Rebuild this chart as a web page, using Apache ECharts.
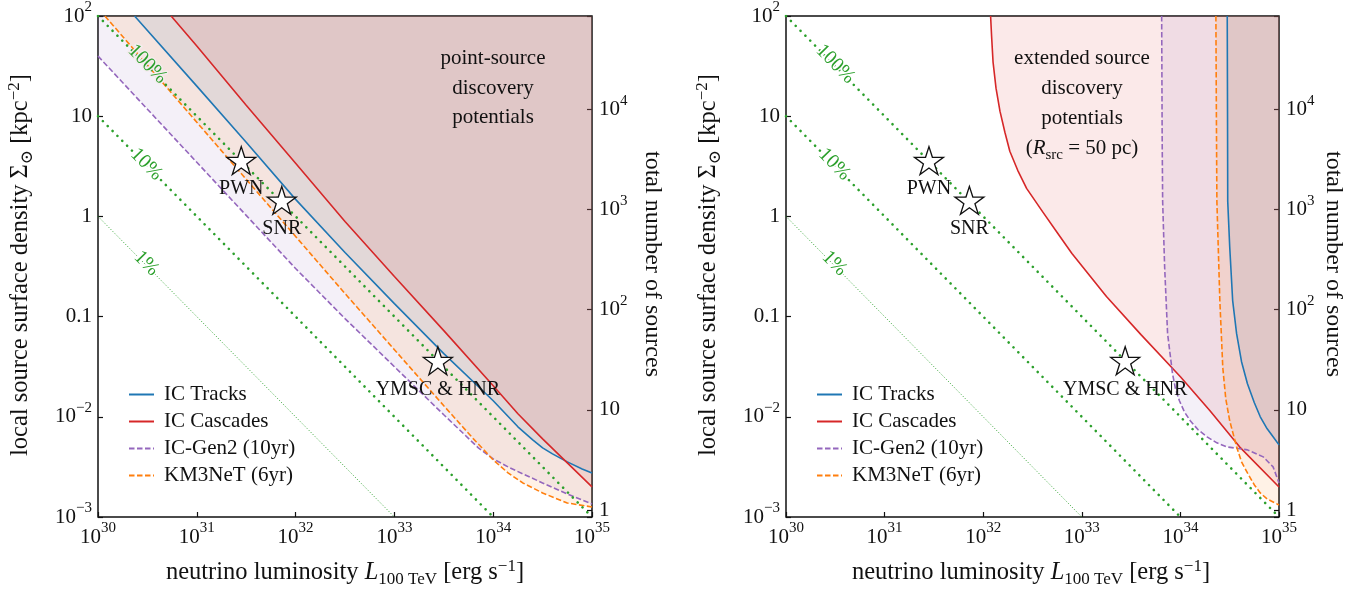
<!DOCTYPE html>
<html>
<head>
<meta charset="utf-8">
<script src="https://cdn.jsdelivr.net/npm/echarts@6/dist/echarts.min.js"></script>
<style>
  html, body { margin: 0; background: #fff; }
  #chart { width: 1364px; height: 593px; }
</style>
</head>
<body>
<div id="chart"></div>
<script>
// all curve points are [log10 L, log10 Sigma]
const tracksPoint = [[30.37, 2.0], [31, 1.30], [31.5, 0.74], [32, 0.17], [32.5, -0.36], [33, -0.87], [33.5, -1.37], [34, -1.84], [34.25, -2.10], [34.4, -2.23], [34.5, -2.31], [34.6, -2.37], [34.75, -2.45], [34.9, -2.52], [35, -2.56]]
const cascadesPoint = [[30.74, 2.0], [31, 1.70], [31.5, 1.11], [32, 0.53], [32.5, -0.05], [33, -0.60], [33.5, -1.14], [34, -1.69], [34.25, -1.97], [34.5, -2.22], [34.75, -2.46], [35, -2.70]]
const gen2Point = [[30, 1.60], [30.5, 1.07], [31, 0.54], [31.5, 0.01], [32, -0.52], [32.5, -1.02], [33, -1.50], [33.5, -1.98], [33.85, -2.31], [34, -2.42], [34.15, -2.50], [34.3, -2.57], [34.5, -2.66], [34.75, -2.77], [35, -2.87]]
const km3Point = [[30.07, 2.0], [30.5, 1.51], [31, 0.94], [31.5, 0.37], [32, -0.20], [32.5, -0.77], [33, -1.33], [33.5, -1.89], [33.8, -2.22], [34, -2.43], [34.15, -2.56], [34.3, -2.66], [34.5, -2.76], [34.75, -2.86], [35, -2.90]]

const tracksExt = [[34.475, 2.0], [34.478, 1.0], [34.48, 0.15], [34.50, -0.30], [34.53, -0.84], [34.57, -1.17], [34.62, -1.45], [34.68, -1.67], [34.75, -1.86], [34.81, -2.0], [34.88, -2.12], [34.94, -2.2], [35, -2.28]]
const cascadesExt = [[32.075, 2.0], [32.085, 1.8], [32.10, 1.54], [32.13, 1.28], [32.17, 1.05], [32.22, 0.84], [32.27, 0.65], [32.35, 0.46], [32.44, 0.28], [32.6, 0.05], [32.75, -0.16], [32.9, -0.37], [33.25, -0.80], [33.6, -1.18], [34, -1.60], [34.3, -1.94], [34.6, -2.30], [35, -2.70]]
const gen2Ext = [[33.81, 2.0], [33.815, 0.8], [33.82, 0.15], [33.84, -0.5], [33.87, -1.17], [33.92, -1.57], [33.95, -1.72], [33.99, -1.84], [34.04, -1.95], [34.1, -2.04], [34.18, -2.13], [34.27, -2.2], [34.37, -2.26], [34.47, -2.30], [34.68, -2.33], [34.84, -2.40], [34.94, -2.50], [35, -2.66]]
const km3Ext = [[34.36, 2.0], [34.365, 1.0], [34.37, 0.15], [34.40, -0.84], [34.43, -1.51], [34.46, -1.82], [34.5, -2.04], [34.57, -2.30], [34.62, -2.45], [34.68, -2.56], [34.75, -2.68], [34.81, -2.76], [34.88, -2.82], [34.94, -2.85], [35, -2.88]]

// constant-fraction lines (100%, 10%, 1%)
const frac100 = [[30, 2], [35, -3]]
const frac10 = [[30, 1], [34, -3]]
const frac1 = [[30, 0], [33, -3]]
const fracText = ['100%', '10%', '1%']
const fracLabelPos = [[30.5, 1.52], [30.49, 0.52], [30.49, -0.47]]

// source classes
const starNames = ['PWN', 'SNR', 'YMSC & HNR']
const starL = [31.45, 31.86, 33.44]
const starSigma = [0.557, 0.16, -1.44]

const lumTickLabels = ['10^30', '10^31', '10^32', '10^33', '10^34', '10^35']
const sigmaTickLabels = ['10^−3', '10^−2', '0.1', '1', '10', '10^2']
const countTickLabels = ['1', '10', '10^2', '10^3', '10^4']

const F = '"Liberation Serif", "DejaVu Serif", serif'
const INK = '#111'
const colors = {
  'IC Tracks': ['#1f77b4', 'rgba(31,119,180,0.1)', false],
  'IC Cascades': ['#d62728', 'rgba(214,39,40,0.1)', false],
  'IC-Gen2 (10yr)': ['#9467bd', 'rgba(148,103,189,0.1)', true],
  'KM3NeT (6yr)': ['#ff7f0e', 'rgba(255,127,14,0.1)', true]
}
const GREEN = '#2ca02c'
const STAR = 'path://M100 0 L122.45 69.1 L195.1 69.1 L136.3 111.8 L158.8 180.9 L100 138.2 L41.2 180.9 L63.7 111.8 L4.9 69.1 L77.55 69.1 Z'

const toXY = (p) => [Math.pow(10, p[0]), Math.pow(10, p[1])]
const rt = (s) => {
  const [b, e] = s.split('^')
  return e === undefined ? '{b|' + b + '}' : '{b|' + b + '}{s|' + e + '}'
}
const tickRich = {
  b: { fontSize: 21, fontFamily: F, color: INK, lineHeight: 32, verticalAlign: 'middle' },
  s: { fontSize: 15, fontFamily: F, color: INK, lineHeight: 15, verticalAlign: 'top' }
}
const tick = { inside: true, length: 5, lineStyle: { color: INK, width: 1.2 } }

function xAxis(gi) {
  return {
    type: 'log', logBase: 10, gridIndex: gi, min: 1e30, max: 1e35,
    axisLine: { show: false }, splitLine: { show: false }, axisTick: tick,
    axisLabel: {
      margin: 4, rich: tickRich,
      formatter: (v) => rt(lumTickLabels[Math.round(Math.log10(v)) - 30])
    }
  }
}
function sigmaAxis(gi) {
  return {
    type: 'log', logBase: 10, gridIndex: gi, min: 1e-3, max: 1e2, position: 'left',
    axisLine: { show: false }, splitLine: { show: false }, axisTick: tick,
    axisLabel: {
      margin: 6, rich: tickRich,
      formatter: (v) => rt(sigmaTickLabels[Math.round(Math.log10(v)) + 3])
    }
  }
}
function countAxis(gi) {
  return {
    type: 'log', logBase: 10, gridIndex: gi, min: 0.853, max: 85300, position: 'right',
    axisLine: { show: false }, splitLine: { show: false }, axisTick: tick,
    axisLabel: {
      margin: 7, rich: tickRich,
      formatter: (v) => {
        const e = Math.log10(v)
        const k = Math.round(e)
        return Math.abs(e - k) < 0.01 && countTickLabels[k] ? rt(countTickLabels[k]) : ''
      }
    }
  }
}

function curve(name, pts, gi) {
  const [c, fill, dashed] = colors[name]
  return {
    name, type: 'line', xAxisIndex: gi, yAxisIndex: gi * 2,
    data: pts.map(toXY), symbol: 'none', smooth: false,
    lineStyle: { color: c, width: 1.6, type: dashed ? [5.5, 2.5] : 'solid' },
    itemStyle: { color: c },
    areaStyle: { color: fill, origin: 'end', opacity: 1 },
    silent: true
  }
}
function fracLine(pts, gi, thin) {
  return {
    type: 'line', xAxisIndex: gi, yAxisIndex: gi * 2, data: pts.map(toXY),
    symbol: 'none', silent: true, z: 3,
    lineStyle: thin
      ? { color: GREEN, width: 1, type: [1, 2] }
      : { color: GREEN, width: 2.6, type: [0.1, 6.8], cap: 'round' }
  }
}
function fracLabels(gi, halo) {
  return {
    type: 'scatter', xAxisIndex: gi, yAxisIndex: gi * 2, symbolSize: 0,
    itemStyle: { color: 'rgba(0,0,0,0)', opacity: 1 }, z: 4, silent: true,
    data: fracLabelPos.map((p, i) => ({ value: toXY(p), label: { textBorderColor: halo[i] } })),
    label: {
      show: true, position: 'inside', rotate: -45.5, color: GREEN,
      fontSize: 20, fontFamily: F, textBorderWidth: 3,
      formatter: (p) => fracText[p.dataIndex]
    }
  }
}
function stars(gi) {
  return {
    type: 'scatter', xAxisIndex: gi, yAxisIndex: gi * 2, z: 6, silent: true,
    symbol: STAR, symbolSize: [29, 28],
    itemStyle: { color: '#fff', borderColor: INK, borderWidth: 1.3, opacity: 1 },
    data: starL.map((l, i) => toXY([l, starSigma[i]])),
    label: {
      show: true, position: 'bottom', distance: 4, color: INK,
      fontSize: 20, fontFamily: F,
      formatter: (p) => starNames[p.dataIndex]
    }
  }
}

const names = Object.keys(colors)
function legend(left) {
  return {
    left, top: 384, padding: 0, orient: 'vertical', itemWidth: 25, itemHeight: 14, itemGap: 6,
    data: names, selectedMode: false,
    itemStyle: { color: 'rgba(0,0,0,0)', borderWidth: 0, opacity: 0 },
    textStyle: { fontSize: 21, fontFamily: F, color: INK, lineHeight: 21, padding: [0, 0, 0, 5] }
  }
}

const titleRich = {
  t: { fontSize: 24.5, fontFamily: F, fill: INK, lineHeight: 30, verticalAlign: 'middle' },
  i: { fontSize: 24.5, fontFamily: F, fill: INK, fontStyle: 'italic', lineHeight: 30, verticalAlign: 'middle' },
  sub: { fontSize: 17, fontFamily: F, fill: INK, lineHeight: 21, verticalAlign: 'bottom' },
  sup: { fontSize: 17, fontFamily: F, fill: INK, lineHeight: 21, verticalAlign: 'top' }
}
const noteRich = {
  t: { fontSize: 21, fontFamily: F, fill: INK, lineHeight: 30, verticalAlign: 'middle' },
  i: { fontSize: 21, fontFamily: F, fill: INK, fontStyle: 'italic', lineHeight: 30, verticalAlign: 'middle' },
  sub: { fontSize: 15, fontFamily: F, fill: INK, lineHeight: 22, verticalAlign: 'bottom' }
}
function txt(x, y, text, rotation, extra) {
  return {
    type: 'text', x, y, rotation: rotation || 0, z: 20, silent: true,
    style: Object.assign({
      text, align: 'center', verticalAlign: 'middle', fill: INK,
      fontSize: 24, fontFamily: F, rich: titleRich
    }, extra || {})
  }
}
const xTitle = '{t|neutrino luminosity }{i|L}{sub|100 TeV}{t| [erg s}{sup|−1}{t|]}'
const yTitle = '{t|local source surface density Σ}{sub|⊙}{t| [kpc}{sup|−2}{t|]}'

const chart = echarts.init(document.getElementById('chart'))
chart.setOption({
  animation: false,
  backgroundColor: '#fff',
  grid: [
    { left: 98, top: 14, width: 494, height: 503, show: true, borderColor: INK, borderWidth: 1.5 },
    { left: 786, top: 14, width: 493, height: 503, show: true, borderColor: INK, borderWidth: 1.5 }
  ],
  xAxis: [xAxis(0), xAxis(1)],
  yAxis: [sigmaAxis(0), countAxis(0), sigmaAxis(1), countAxis(1)],
  legend: [legend(128), legend(816)],
  series: [
    curve('IC Tracks', tracksPoint, 0),
    curve('IC Cascades', cascadesPoint, 0),
    curve('IC-Gen2 (10yr)', gen2Point, 0),
    curve('KM3NeT (6yr)', km3Point, 0),
    curve('IC Tracks', tracksExt, 1),
    curve('IC Cascades', cascadesExt, 1),
    curve('IC-Gen2 (10yr)', gen2Ext, 1),
    curve('KM3NeT (6yr)', km3Ext, 1),
    fracLine(frac100, 0), fracLine(frac10, 0), fracLine(frac1, 0, true),
    fracLine(frac100, 1), fracLine(frac10, 1), fracLine(frac1, 1, true),
    fracLabels(0, ['#f4ecee', '#fff', '#fff']),
    fracLabels(1, ['#fff', '#fff', '#fff']),
    stars(0), stars(1)
  ],
  graphic: [
    txt(493, 88, 'point-source\ndiscovery\npotentials', 0, { fontSize: 21, lineHeight: 29.5, rich: null }),
    txt(1082, 103, '{t|extended source}\n{t|discovery}\n{t|potentials}\n{t|(}{i|R}{sub|src}{t| = 50 pc)}', 0, { rich: noteRich }),
    txt(345, 573, xTitle),
    txt(1031, 573, xTitle),
    txt(21, 265, yTitle, Math.PI / 2),
    txt(709, 265, yTitle, Math.PI / 2),
    txt(652, 264, 'total number of sources', -Math.PI / 2, { rich: null }),
    txt(1333, 264, 'total number of sources', -Math.PI / 2, { rich: null })
  ]
})
</script>
</body>
</html>
